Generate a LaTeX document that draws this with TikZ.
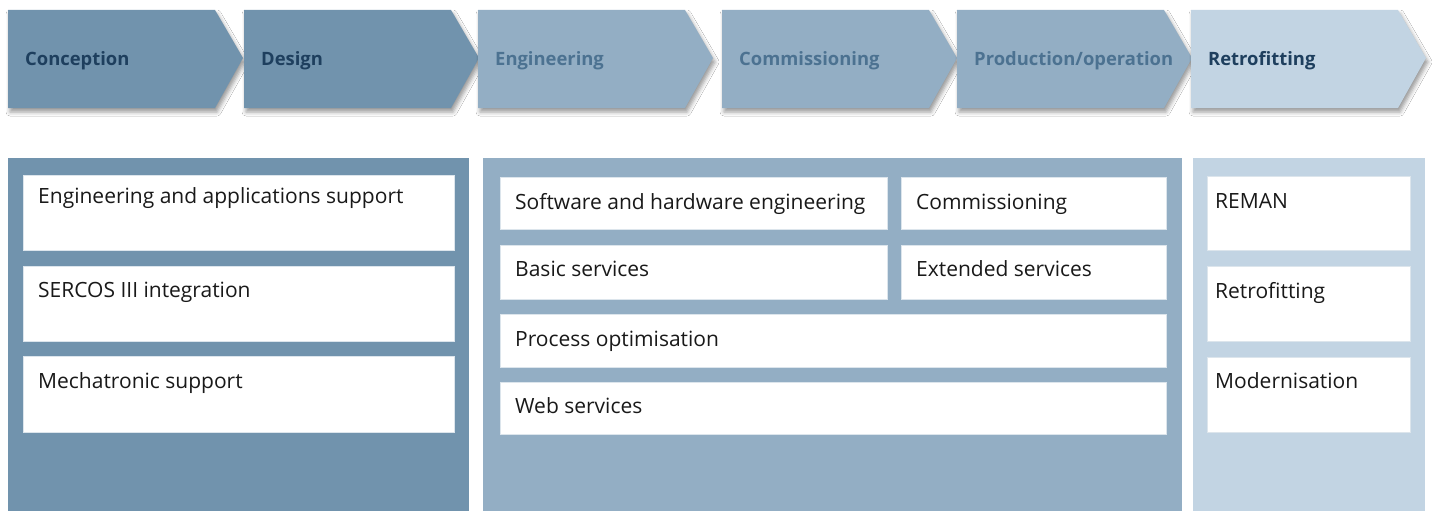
\documentclass[tikz,border=0pt]{standalone}
\usepackage{fontspec}
\setmainfont{Open Sans}
\usetikzlibrary{shadows.blur}
\definecolor{cdark}{HTML}{7193AD}
\definecolor{cmid}{HTML}{93AEC4}
\definecolor{clight}{HTML}{C2D4E3}
\definecolor{tdark}{HTML}{1E3F5E}
\definecolor{tmid}{HTML}{4C7291}
\definecolor{bline}{HTML}{DCE5EC}
\tikzset{
  phase/.style={blur shadow={shadow xshift=2pt, shadow yshift=-4pt, shadow blur radius=4pt, shadow opacity=40}},
  phasetext/.style={anchor=base west, inner sep=0pt, font=\fontsize{18.4}{22}\selectfont\bfseries},
  itembox/.style={fill=white, draw=bline, line width=0.8pt},
  itemtext/.style={anchor=base west, inner sep=0pt, font=\fontsize{21}{25}\selectfont, text=black!90},
}
\begin{document}
\begin{tikzpicture}[x=1pt,y=-1pt]
\useasboundingbox[fill=white] (0,0) rectangle (1432,511);
% phase arrows
\foreach \l/\c/\t/\tc/\n in {8/cdark/Conception/tdark/p1, 244/cdark/Design/tdark/p2, 478/cmid/Engineering/tmid/p3, 722/cmid/Commissioning/tmid/p4, 957/cmid/Production\slash operation/tmid/p5, 1191/clight/Retrofitting/tdark/p6}{
  \fill[\c, phase] (\l,10) -- ++(207,0) -- ++(28,48) -- ++(-28,50) -- ++(-207,0) -- cycle;
  \node[phasetext, text=\tc] (\n) at (\l+17,65.5) {\t};
}
% panels
\fill[cdark] (8,158) rectangle (469,511);
\fill[cmid] (483,158) rectangle (1182,511);
\fill[clight] (1193,158) rectangle (1425,511);
% left boxes
\draw[itembox] (23,175) rectangle (454,250);
\draw[itembox] (23,266) rectangle (454,341);
\draw[itembox] (23,356) rectangle (454,432);
\node[itemtext] (l1) at (38,203) {Engineering and applications support};
\node[itemtext] (l2) at (38,297) {SERCOS III integration};
\node[itemtext] (l3) at (38,388) {Mechatronic support};
% middle boxes
\draw[itembox] (500,177) rectangle (887,229);
\draw[itembox] (901,177) rectangle (1166,229);
\draw[itembox] (500,245) rectangle (887,299);
\draw[itembox] (901,245) rectangle (1166,299);
\draw[itembox] (500,314) rectangle (1166,367);
\draw[itembox] (500,382) rectangle (1166,434);
\node[itemtext] (m1) at (515,209) {Software and hardware engineering};
\node[itemtext] (m2) at (916,209) {Commissioning};
\node[itemtext] (m3) at (515,276) {Basic services};
\node[itemtext] (m4) at (916,276) {Extended services};
\node[itemtext] (m5) at (515,346) {Process optimisation};
\node[itemtext] (m6) at (515,413) {Web services};
% right boxes
\draw[itembox] (1207,176) rectangle (1410,250);
\draw[itembox] (1207,266) rectangle (1410,341);
\draw[itembox] (1207,357) rectangle (1410,432);
\node[itemtext] (r1) at (1215,208) {REMAN};
\node[itemtext] (r2) at (1215,298) {Retrofitting};
\node[itemtext] (r3) at (1215,388) {Modernisation};
\end{tikzpicture}
\end{document}
